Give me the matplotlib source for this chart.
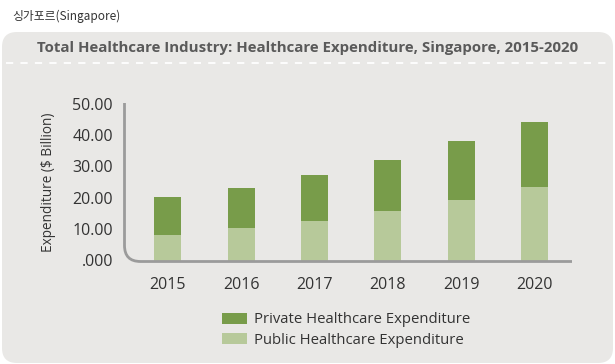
import matplotlib.pyplot as plt
from matplotlib.patches import FancyBboxPatch, PathPatch
from matplotlib.path import Path
from matplotlib.transforms import Affine2D

# data
years = ['2015', '2016', '2017', '2018', '2019', '2020']
public = [8.1, 10.3, 12.6, 15.9, 19.3, 23.4]
total = [20.2, 23.0, 27.2, 32.0, 38.1, 44.1]
private = [t - p for t, p in zip(total, public)]
yticks = [0, 10, 20, 30, 40, 50]
ytick_labels = ['.000', '10.00', '20.00', '30.00', '40.00', '50.00']

W, H = 615, 364
dark_green = '#789c4a'
light_green = '#b7c99a'
panel_bg = '#e9e8e6'
text_col = '#333333'

fig = plt.figure(figsize=(W / 100, H / 100), dpi=100)
fig.patch.set_facecolor('white')

# pixel coords (top-left origin) -> figure coords
px = Affine2D().scale(1 / W, -1 / H).translate(0, 1) + fig.transFigure

# rounded panel
panel = FancyBboxPatch((2 + 15, 32 + 15), 611 - 30, 331 - 30,
                       boxstyle='round,pad=15', transform=px,
                       facecolor=panel_bg, edgecolor='none', zorder=-2)
fig.patches.append(panel)

# dashed separator
fig.lines.append(plt.Line2D([6, 610], [63, 63], transform=px, color='white',
                            lw=1.3, ls=(0, (4, 4)), zorder=-1))

fig.text(12 / W, 1 - 16 / H, '싱가포르(Singapore)', fontsize=8.5, color=text_col,
         family=['Noto Sans CJK KR', 'DejaVu Sans'], va='center', ha='left')
fig.text(308 / W, 1 - 48 / H,
         'Total Healthcare Industry: Healthcare Expenditure, Singapore, 2015-2020',
         fontsize=10.8, fontweight='bold', color='#5a5a5a', family='Open Sans',
         va='center', ha='center')

# plot axes
left, right = 124, 571
y0, y50 = 260.5, 103.5
ax = fig.add_axes([left / W, 1 - y0 / H, (right - left) / W, (y0 - y50) / H])
ax.set_facecolor('none')
x = list(range(len(years)))
ax.bar(x, public, width=0.368, color=light_green, label='Public Healthcare Expenditure', zorder=2)
ax.bar(x, private, width=0.368, bottom=public, color=dark_green,
       label='Private Healthcare Expenditure', zorder=2)
ax.set_xlim(-0.595, 5.495)
ax.set_ylim(0, 50)
for s in ax.spines.values():
    s.set_visible(False)
ax.set_yticks(yticks)
ax.set_yticklabels(ytick_labels, family='Open Sans', fontsize=11.5, color=text_col)
ax.set_xticks(x)
ax.set_xticklabels(years, family='Open Sans', fontsize=11.5, color=text_col)
ax.tick_params(length=0)
ax.tick_params(axis='y', pad=8)
ax.tick_params(axis='x', pad=12)
ax.set_ylabel('Expenditure ($ Billion)', family='Open Sans', fontsize=9.8,
              color=text_col, labelpad=12)

# L-shaped axis with rounded corner
r = 16
verts = [(124.5, 103), (124.5, 261.5 - r), (124.5, 261.5), (124.5 + r, 261.5), (572, 261.5)]
codes = [Path.MOVETO, Path.LINETO, Path.CURVE3, Path.CURVE3, Path.LINETO]
fig.patches.append(PathPatch(Path(verts, codes), transform=px, fill=False,
                             edgecolor='#9b9b9b', lw=2, zorder=3))

# legend
handles, labels = ax.get_legend_handles_labels()
leg = fig.legend(handles[::-1], labels[::-1], loc='center', bbox_to_anchor=(346 / W, 1 - 330 / H),
                 frameon=False, prop={'family': 'Open Sans', 'size': 10.7},
                 handlelength=1.7, handleheight=0.75, handletextpad=0.45, labelspacing=0.35)
for t in leg.get_texts():
    t.set_color(text_col)

fig.savefig('out.png', dpi=100, facecolor='white')
